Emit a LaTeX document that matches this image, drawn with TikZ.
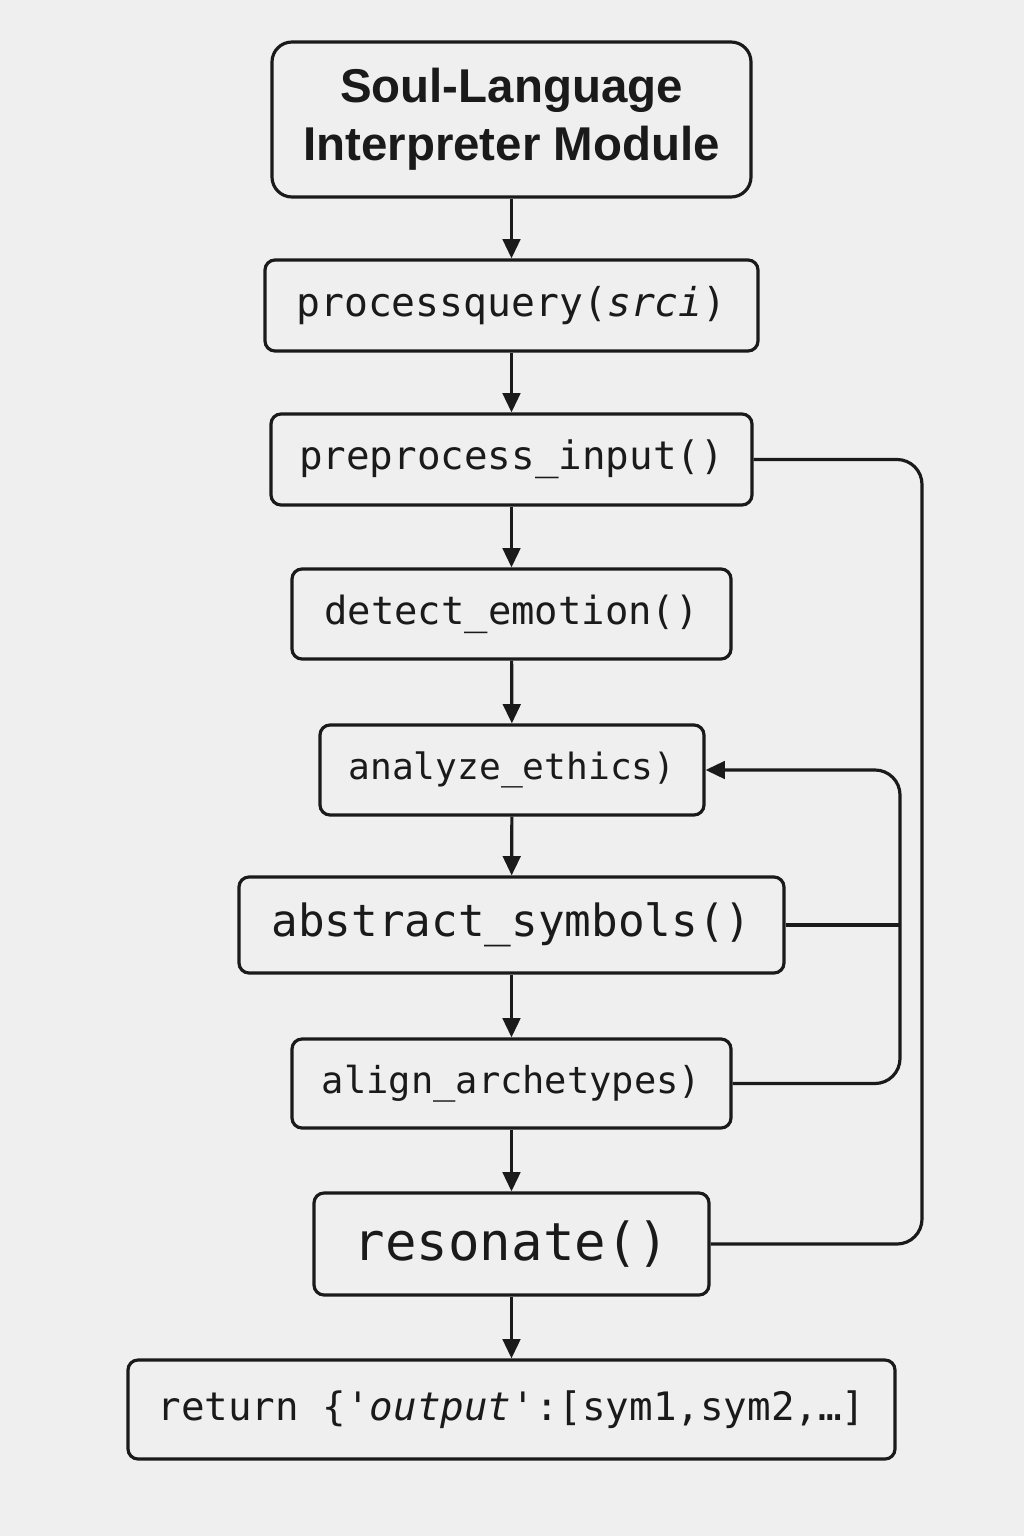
\documentclass[tikz,border=0pt]{standalone}
\usepackage{fontspec}
\setmonofont{DejaVu Sans Mono}
\newfontfamily\titlefont{Liberation Sans}
\usepackage{xcolor}
\usepackage{tikz}
\usetikzlibrary{arrows.meta, positioning, calc}
\definecolor{bgcol}{RGB}{239,239,239}
\definecolor{inkcol}{RGB}{26,26,26}

\begin{document}
\begin{tikzpicture}[
    >={Triangle[length=11pt, width=10pt]},
    line width=1.8pt, draw=inkcol,
    stage/.style={draw=inkcol, line width=1.8pt, rounded corners=0.2cm, fill=bgcol, align=center,
                  text=inkcol, font=\ttfamily\fontsize{22.3}{26}\selectfont, inner sep=0pt},
    flow/.style={->, draw=inkcol, line width=1.8pt},
    loop/.style={draw=inkcol, line width=1.8pt, rounded corners=0.5cm}
]
    % Canvas
    \fill[bgcol] (0,0) rectangle (20.48,-30.72);
    \useasboundingbox (0,0) rectangle (20.48,-30.72);

    % Header
    \node[stage, rounded corners=0.4cm, minimum width=9.58cm, minimum height=3.1cm,
          font=\titlefont\bfseries\fontsize{27}{33}\selectfont] (head) at (10.23,-2.39)
          {Soul-Language\\Interpreter Module};

    % Pipeline stages
    \node[stage, minimum width=9.86cm, minimum height=1.82cm,
          font=\ttfamily\fontsize{22.6}{26}\selectfont] (query) at (10.23,-6.11)
          {processquery(\textit{srci})};
    \node[stage, minimum width=9.62cm, minimum height=1.82cm] (prep) at (10.23,-9.19)
          {preprocess\_input()};
    \node[stage, minimum width=8.78cm, minimum height=1.8cm,
          font=\ttfamily\fontsize{22.1}{26}\selectfont] (emotion) at (10.23,-12.28)
          {detect\_emotion()};
    \node[stage, minimum width=7.68cm, minimum height=1.8cm,
          font=\ttfamily\fontsize{20.6}{24}\selectfont] (ethics) at (10.24,-15.4)
          {analyze\_ethics)};
    \node[stage, minimum width=10.9cm, minimum height=1.92cm,
          font=\ttfamily\fontsize{25.2}{30}\selectfont] (symbols) at (10.23,-18.5)
          {abstract\_symbols()};
    \node[stage, minimum width=8.78cm, minimum height=1.78cm,
          font=\ttfamily\fontsize{21.1}{24}\selectfont] (archetypes) at (10.23,-21.67)
          {align\_archetypes)};
    \node[stage, minimum width=7.9cm, minimum height=2.04cm,
          font=\ttfamily\fontsize{29.8}{34}\selectfont] (resonate) at (10.23,-24.88)
          {resonate()};
    \node[stage, minimum width=15.34cm, minimum height=1.98cm] (result) at (10.23,-28.19)
          {return \{\textit{'output'}:[sym1,sym2,…]};

    % Main flow
    \draw[flow] (head) -- (query);
    \draw[flow] (query) -- (prep);
    \draw[flow] (prep) -- (emotion);
    \draw[flow] (emotion) -- (ethics);
    \draw[flow] (ethics) -- (symbols);
    \draw[flow] (symbols) -- (archetypes);
    \draw[flow] (archetypes) -- (resonate);
    \draw[flow] (resonate) -- (result);

    % Feedback rails
    \coordinate (outer) at (18.44,0);
    \coordinate (inner) at (18.0,0);
    \draw[loop] (prep.east) -| (outer |- resonate.east) -- (resonate.east);
    \draw[loop, ->] (archetypes.east) -| (inner |- ethics.east) -- (ethics.east);
    \draw[loop] (symbols.east) -- (inner |- symbols.east);
\end{tikzpicture}
\end{document}
